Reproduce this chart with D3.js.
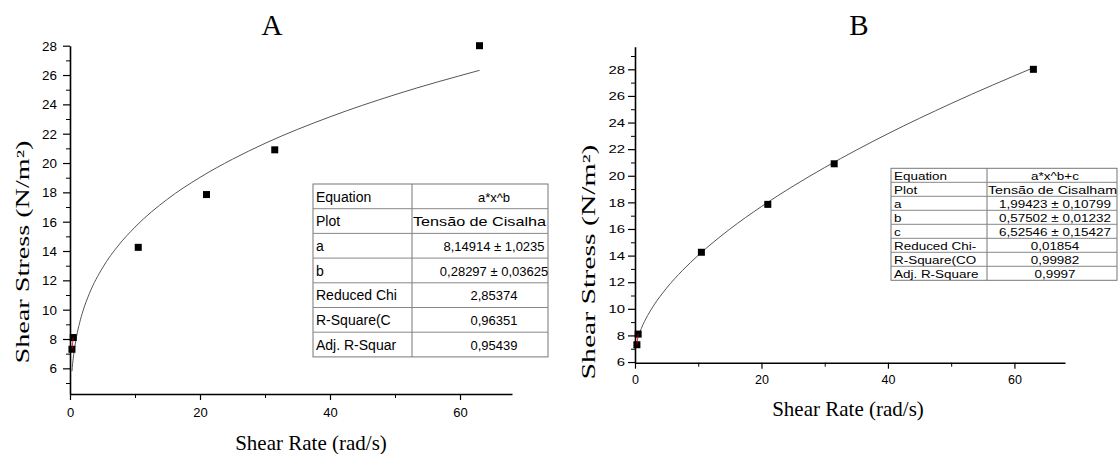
<!DOCTYPE html>
<html>
<head>
<meta charset="utf-8">
<script src="https://cdn.jsdelivr.net/npm/d3@7"></script>
<style>
  body { margin: 0; background: #fff; }
  svg { display: block; }
</style>
</head>
<body>
<svg width="1119" height="454"></svg>
<script>
// measured points (same data in both panels)
const shearRate = [0.3, 0.5, 10.5, 21, 31.5, 63];
const shearStress = [7.3, 8.1, 14.25, 17.85, 20.9, 28.0];

// fitted curves
const fitAX = [0.3, 0.4, 0.5, 0.75, 1, 1.5, 2, 3, 5, 7.5, 10, 15, 20, 25, 30, 40, 50, 63];
const fitAY = [5.80, 6.29, 6.70, 7.51, 8.15, 9.14, 9.92, 11.12, 12.85, 14.41, 15.63, 17.54, 19.02, 20.26, 21.34, 23.15, 24.66, 26.32];
const fitBX = [0.5, 1, 2, 3, 5, 7.5, 10, 15, 20, 25, 30, 40, 50, 63];
const fitBY = [7.86, 8.52, 9.50, 10.28, 11.56, 12.88, 14.02, 15.99, 17.69, 19.22, 20.62, 23.16, 25.43, 28.12];

// tick values
const xMajor = [0, 20, 40, 60];
const xMinor = [10, 30, 50];
const yMajor = [6, 8, 10, 12, 14, 16, 18, 20, 22, 24, 26, 28];
const yMinorA = [5, 7, 9, 11, 13, 15, 17, 19, 21, 23, 25, 27];
const yMinorB = [7, 9, 11, 13, 15, 17, 19, 21, 23, 25, 27, 29];

// fit result tables
const tableALabels = ["Equation", "Plot", "a", "b", "Reduced Chi", "R-Square(C", "Adj. R-Squar"];
const tableAValues = ["a*x^b", "Tensão de Cisalha", "8,14914 ± 1,0235", "0,28297 ± 0,03625", "2,85374", "0,96351", "0,95439"];
const tableBLabels = ["Equation", "Plot", "a", "b", "c", "Reduced Chi-", "R-Square(CO", "Adj. R-Square"];
const tableBValues = ["a*x^b+c", "Tensão de Cisalham", "1,99423 ± 0,10799", "0,57502 ± 0,01232", "6,52546 ± 0,15427", "0,01854", "0,99982", "0,9997"];

const svg = d3.select("svg");
svg.append("rect").attr("width", 1119).attr("height", 454).attr("fill", "#fff");

const panelA = {
  title: "A", titleX: 272,
  xRange: [70, 512], yRange: [394, 45.7], yDomain: [4.25, 28],
  yMinor: yMinorA,
  fitX: fitAX, fitY: fitAY,
  yTickFont: 12, yTickScale: 1.12, yTickOffset: 13,
  xTickFont: 13, xTickOffset: 23,
  xLabelX: 311, xLabelY: 450,
  yLabelX: 29, yLabelY: 252, yLabelLen: 223,
  table: {x0: 313, x1: 412, x2: 548, y0: 184, rowH: 24.7, base: 17.5, font: 14, valFont: 13, sx: 1,
          valX: 494, plotLen: 133, labels: tableALabels, values: tableAValues}
};
const panelB = {
  title: "B", titleX: 859,
  xRange: [635, 1065], yRange: [362.7, 46.7], yDomain: [5.95, 29.7],
  yMinor: yMinorB,
  fitX: fitBX, fitY: fitBY,
  yTickFont: 10.5, yTickScale: 1.42, yTickOffset: 10,
  xTickFont: 12.5, xTickOffset: 21.5,
  xLabelX: 848, xLabelY: 416,
  yLabelX: 595, yLabelY: 262, yLabelLen: 235,
  table: {x0: 891, x1: 987, x2: 1117, y0: 168.3, rowH: 14, base: 11.3, font: 11.5, valFont: 11.5, sx: 1.17,
          valX: 1055, plotLen: 129, labels: tableBLabels, values: tableBValues}
};

function drawPanel(p) {
  const scX = d3.scaleLinear().domain([0, 68]).range(p.xRange);
  const scY = d3.scaleLinear().domain(p.yDomain).range(p.yRange);
  const x0 = p.xRange[0], yBottom = p.yRange[0];

  // minor ticks
  svg.append("g")
    .attr("transform", `translate(0, ${yBottom})`)
    .call(d3.axisBottom(scX).tickValues(xMinor).tickSize(4).tickFormat(""))
    .call(g => g.select(".domain").remove());
  svg.append("g")
    .attr("transform", `translate(${x0}, 0)`)
    .call(d3.axisLeft(scY).tickValues(p.yMinor).tickSize(4).tickFormat(""))
    .call(g => g.select(".domain").remove());

  // major ticks with labels
  const gx = svg.append("g")
    .attr("transform", `translate(0, ${yBottom})`)
    .call(d3.axisBottom(scX).tickValues(xMajor).tickSize(6).tickSizeOuter(0));
  gx.selectAll("text")
    .attr("y", p.xTickOffset).attr("dy", 0)
    .style("font", `${p.xTickFont}px Arial, 'Liberation Sans', sans-serif`)
    .attr("fill", "#000");
  const gy = svg.append("g")
    .attr("transform", `translate(${x0}, 0)`)
    .call(d3.axisLeft(scY).tickValues(yMajor).tickSize(7).tickSizeOuter(0));
  gy.selectAll("text")
    .attr("x", -p.yTickOffset / p.yTickScale).attr("dy", "0.36em")
    .attr("transform", `scale(${p.yTickScale}, 1)`)
    .style("font", `${p.yTickFont}px Arial, 'Liberation Sans', sans-serif`)
    .attr("fill", "#000");
  [gx, gy].forEach(g => {
    g.select(".domain").attr("stroke-width", 1.6);
    g.selectAll(".tick line").attr("stroke-width", 1.2);
  });
  svg.selectAll(".tick line").attr("stroke", "#000");

  // fitted curve
  const line = d3.line().x(d => scX(d[0])).y(d => scY(d[1])).curve(d3.curveMonotoneX);
  svg.append("path")
    .datum(p.fitX.map((v, i) => [v, p.fitY[i]]))
    .attr("d", line)
    .attr("fill", "none")
    .attr("stroke", "#555")
    .attr("stroke-width", 1);

  // data squares
  const pts = shearRate.map((v, i) => [v, shearStress[i]]);
  svg.append("g").selectAll("rect")
    .data(pts)
    .enter()
    .append("rect")
    .attr("x", d => scX(d[0]) - 3.5)
    .attr("y", d => scY(d[1]) - 3.5)
    .attr("width", 7)
    .attr("height", 7)
    .attr("fill", "#000");
  // thin red joint line between the two low points
  svg.append("path")
    .datum(pts.slice(0, 2))
    .attr("d", d3.line().x(d => scX(d[0])).y(d => scY(d[1])))
    .attr("stroke", "#c00")
    .attr("stroke-width", 0.8)
    .attr("fill", "none");

  // titles and axis labels
  const serif = "'Times New Roman', 'Liberation Serif', serif";
  svg.append("text").text(p.title)
    .attr("x", p.titleX).attr("y", 35)
    .attr("text-anchor", "middle")
    .style("font", `29px ${serif}`);
  svg.append("text").text("Shear Rate (rad/s)")
    .attr("x", p.xLabelX).attr("y", p.xLabelY)
    .attr("text-anchor", "middle")
    .style("font", `21px ${serif}`);
  svg.append("text").text("Shear Stress (N/m²)")
    .attr("transform", `translate(${p.yLabelX}, ${p.yLabelY}) rotate(-90)`)
    .attr("text-anchor", "middle")
    .attr("textLength", p.yLabelLen)
    .attr("lengthAdjust", "spacingAndGlyphs")
    .style("font", `18px ${serif}`);

  drawTable(p.table);
}

function drawTable(t) {
  const n = t.labels.length;
  const g = svg.append("g");
  const y1 = t.y0 + n * t.rowH;
  g.append("rect")
    .attr("x", t.x0).attr("y", t.y0)
    .attr("width", t.x2 - t.x0).attr("height", y1 - t.y0)
    .attr("fill", "#fff").attr("stroke", "#777").attr("stroke-width", 1);
  g.append("line")
    .attr("x1", t.x1).attr("x2", t.x1).attr("y1", t.y0).attr("y2", y1)
    .attr("stroke", "#777");
  g.selectAll(".row")
    .data(d3.range(1, n))
    .enter()
    .append("line")
    .attr("x1", t.x0).attr("x2", t.x2)
    .attr("y1", d => t.y0 + d * t.rowH).attr("y2", d => t.y0 + d * t.rowH)
    .attr("stroke", "#888");
  g.selectAll(".lab")
    .data(t.labels)
    .enter()
    .append("text")
    .text(d => d)
    .attr("transform", (d, i) => `translate(${t.x0 + 3}, ${t.y0 + i * t.rowH + t.base}) scale(${t.sx}, 1)`)
    .style("font", `${t.font}px Arial, 'Liberation Sans', sans-serif`);
  g.selectAll(".val")
    .data(t.values)
    .enter()
    .append("text")
    .text(d => d)
    .attr("transform", (d, i) => i === 1
      ? `translate(${t.x1 + 1}, ${t.y0 + i * t.rowH + t.base})`
      : `translate(${t.valX}, ${t.y0 + i * t.rowH + t.base}) scale(${t.sx}, 1)`)
    .attr("text-anchor", (d, i) => i === 1 ? "start" : "middle")
    .attr("textLength", (d, i) => i === 1 ? t.plotLen : null)
    .attr("lengthAdjust", "spacingAndGlyphs")
    .style("font", `${t.valFont}px Arial, 'Liberation Sans', sans-serif`);
}

drawPanel(panelA);
drawPanel(panelB);
</script>
</body>
</html>
